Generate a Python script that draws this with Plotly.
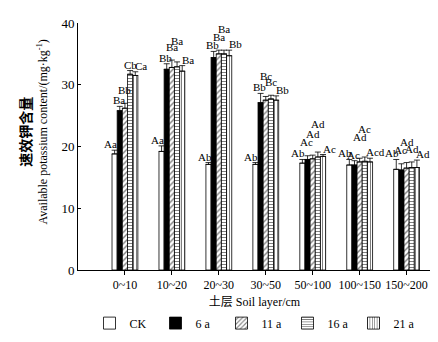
import plotly.graph_objects as go

categories = ["0~10", "10~20", "20~30", "30~50", "50~100", "100~150", "150~200"]
series_names = ["CK", "6 a", "11 a", "16 a", "21 a"]

ck   = [18.8, 19.2, 17.1, 17.1, 17.3, 17.0, 16.3]
a6   = [25.8, 32.5, 34.4, 27.1, 17.9, 17.0, 16.2]
a11  = [26.2, 32.8, 35.0, 27.5, 18.0, 17.5, 16.5]
a16  = [31.7, 32.9, 35.0, 27.7, 18.3, 17.6, 16.6]
a21  = [31.5, 32.2, 34.7, 27.5, 18.4, 17.5, 16.6]

ck_err  = [0.6, 0.9, 0.3, 0.3, 0.6, 0.9, 1.6]
a6_err  = [0.7, 0.9, 1.0, 1.5, 0.6, 0.7, 1.0]
a11_err = [0.8, 1.2, 0.6, 0.6, 0.6, 0.6, 0.9]
a16_err = [0.6, 0.8, 0.6, 0.6, 0.8, 0.7, 0.9]
a21_err = [0.6, 0.9, 0.9, 0.7, 0.3, 0.6, 1.2]

ck_sig  = ["Aa", "Aa", "Ab", "Ab", "Ab", "Ab", "Ab"]
a6_sig  = ["Ba", "Bb", "Bb", "Bb", "Ac", "Ac", "Ac"]
a11_sig = ["Bb", "Ba", "Ba", "Bc", "Ad", "Ad", "Ad"]
a16_sig = ["Cb", "Ba", "Ba", "Bc", "Ad", "Ac", "Ad"]
a21_sig = ["Ca", "Ba", "Bb", "Bb", "Ac", "Acd", "Ad"]

values = [ck, a6, a11, a16, a21]
errors = [ck_err, a6_err, a11_err, a16_err, a21_err]
sigs = [ck_sig, a6_sig, a11_sig, a16_sig, a21_sig]

# label stagger levels and horizontal nudges (layout only)
levels = [
    [0, 0, 0, 0, 0, 0, 0],
    [0, 0, 0, 0, 1, 0, 1],
    [1, 1, 1, 2, 2, 2, 2],
    [0, 2, 2, 1, 3, 3, 1],
    [0, 0, 0, 0, 0, 0, 0],
]
nudges = [-4, -1, 0, 0, 6]

styles = [
    dict(color="white", pattern=None),
    dict(color="black", pattern=None),
    dict(color="white", pattern=dict(shape="/", fgcolor="black", bgcolor="white", size=4, solidity=0.35)),
    dict(color="white", pattern=dict(shape="-", fgcolor="black", bgcolor="white", size=3, solidity=0.35)),
    dict(color="white", pattern=dict(shape="|", fgcolor="black", bgcolor="white", size=3, solidity=0.35)),
]

serif = "Liberation Serif"
fig = go.Figure()
x_idx = list(range(len(categories)))
for name, vals, errs, st in zip(series_names, values, errors, styles):
    marker = dict(color=st["color"], line=dict(color="black", width=0.8))
    if st["pattern"]:
        marker["pattern"] = st["pattern"]
    fig.add_trace(go.Bar(
        x=x_idx, y=vals, name=name, marker=marker,
        error_y=dict(type="data", array=errs, arrayminus=[0] * len(errs),
                     color="black", thickness=0.8, width=3),
    ))

bargap = 0.45
n = len(series_names)
bw = (1 - bargap) / n
annotations = []
for s in range(n):
    for c in range(len(categories)):
        top = values[s][c] + errors[s][c]
        annotations.append(dict(
            x=c + (s - (n - 1) / 2) * bw, y=top + levels[s][c] * 1.2,
            xref="x", yref="y", text=sigs[s][c], showarrow=False,
            yanchor="bottom", xanchor="center", xshift=nudges[s],
            font=dict(family=serif, size=11, color="black"), yshift=-2,
        ))

annotations.append(dict(
    x=-0.125, y=0.56, xref="paper", yref="paper", textangle=-90, showarrow=False,
    text="<span style='font-size:14px'><b>速效钾含量</b></span><br>Available potassium content/(mg·kg<sup>-1</sup>)",
    font=dict(family=serif + ", Noto Sans CJK SC", size=12, color="black"),
    xanchor="center", yanchor="middle",
))

fig.update_layout(
    width=438, height=342,
    margin=dict(l=70, r=15, t=15, b=72),
    paper_bgcolor="white", plot_bgcolor="white",
    barmode="group", bargap=bargap, bargroupgap=0,
    showlegend=True,
    legend=dict(orientation="h", x=0.5, xanchor="center", y=-0.215, yanchor="middle",
                font=dict(family=serif, size=12, color="black"),
                itemwidth=30, entrywidth=21, entrywidthmode="pixels",
                tracegroupgap=0, bgcolor="rgba(0,0,0,0)"),
    annotations=annotations,
    font=dict(family=serif, color="black"),
)
fig.update_xaxes(
    tickmode="array", tickvals=x_idx, ticktext=categories, automargin=False,
    range=[-1, 6.52], showline=True, linecolor="black", linewidth=1,
    ticks="outside", ticklen=4, tickcolor="black", showgrid=False, zeroline=False,
    tickfont=dict(family=serif, size=12, color="black"),
    title=dict(text="土层 Soil layer/cm", standoff=6,
               font=dict(family=serif + ", Noto Sans CJK SC", size=12, color="black")),
)
fig.update_yaxes(
    range=[0, 40], tickvals=[0, 10, 20, 30, 40], showline=True, linecolor="black",
    linewidth=1, ticks="inside", ticklen=3, tickcolor="black", showgrid=False,
    zeroline=False, automargin=False, tickfont=dict(family=serif, size=13, color="black"),
)

fig.write_html("out.html")
